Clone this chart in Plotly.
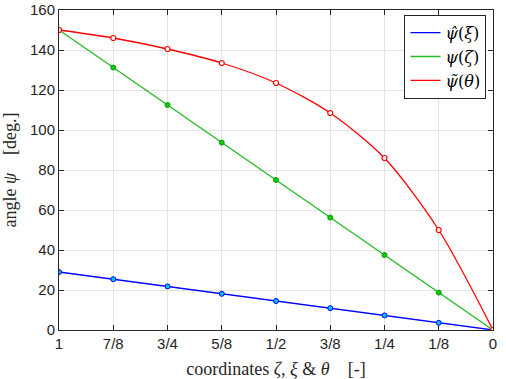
import plotly.graph_objects as go

# coordinates, 1 -> 0 in steps of 1/8
coords = [1, 0.875, 0.75, 0.625, 0.5, 0.375, 0.25, 0.125, 0]
tick_labels = ["1", "7/8", "3/4", "5/8", "1/2", "3/8", "1/4", "1/8", "0"]

psi_hat = [29.0, 25.4, 21.8, 18.1, 14.5, 10.9, 7.3, 3.6, 0]
psi = [150.0, 131.2, 112.5, 93.7, 75.0, 56.2, 37.5, 18.7, 0]
psi_tilde = [150.0, 146.0, 140.5, 133.5, 123.5, 108.5, 86.0, 50.0, 0]

serif = "Liberation Serif"
legend_serif = "DejaVu Serif"
sans = "Liberation Sans"
axcol = "#262626"

fig = go.Figure()

fig.add_trace(go.Scatter(x=coords, y=psi_hat, mode="lines+markers", showlegend=False,
                         line=dict(color="#0000ff", width=1.3),
                         marker=dict(size=5, color="#00bfff", line=dict(color="#0000ff", width=1))))
fig.add_trace(go.Scatter(x=coords, y=psi, mode="lines+markers", showlegend=False,
                         line=dict(color="#22bb22", width=1.3),
                         marker=dict(size=5, color="#00cc00", line=dict(color="#119911", width=1))))
fig.add_trace(go.Scatter(x=coords, y=psi_tilde, mode="lines+markers", showlegend=False,
                         line=dict(color="#ff0000", width=1.3, shape="spline", smoothing=0.8),
                         marker=dict(size=5, color="white", line=dict(color="#ff0000", width=1.2))))

# legend entries (lines only)
for name, col in [("<i>ψ\u0302</i>(<i>ξ</i>)", "#0000ff"),
                  ("<i>ψ</i>(<i>ζ</i>)", "#22bb22"),
                  ("<i>ψ\u0303</i>(<i>θ</i>)", "#ff0000")]:
    fig.add_trace(go.Scatter(x=[None], y=[None], mode="lines", name=name,
                             line=dict(color=col, width=1.3)))

fig.update_layout(
    width=506, height=379,
    margin=dict(l=59, r=13, t=10, b=49),
    paper_bgcolor="white", plot_bgcolor="white",
    font=dict(family=sans, size=15, color=axcol),
    legend=dict(x=0.985, y=0.985, xanchor="right", yanchor="top",
                bgcolor="white", bordercolor=axcol, borderwidth=1,
                font=dict(family=legend_serif, size=16, color="black"),
                itemwidth=30, tracegroupgap=0),
)

fig.update_xaxes(range=[1, 0], tickvals=coords, ticktext=tick_labels, automargin=False,
                 showgrid=True, gridcolor="#e3e3e3", gridwidth=1,
                 showline=True, linecolor=axcol, linewidth=1, mirror="allticks",
                 ticks="inside", ticklen=5, tickcolor=axcol, zeroline=False,
                 title=dict(text="coordinates <i>ζ</i>, <i>ξ</i> &amp; <i>θ</i>    [-]",
                            font=dict(family=serif, size=18, color=axcol)))
fig.update_yaxes(range=[0, 160], dtick=20, automargin=False,
                 showgrid=True, gridcolor="#e3e3e3", gridwidth=1,
                 showline=True, linecolor=axcol, linewidth=1, mirror="allticks",
                 ticks="inside", ticklen=5, tickcolor=axcol, zeroline=False,
                 title=dict(text="angle <i>ψ</i>    [deg.]",
                            font=dict(family=serif, size=18, color=axcol)))

fig.write_html("out.html", config={"displayModeBar": False},
               post_script="document.body.style.margin='0';")
